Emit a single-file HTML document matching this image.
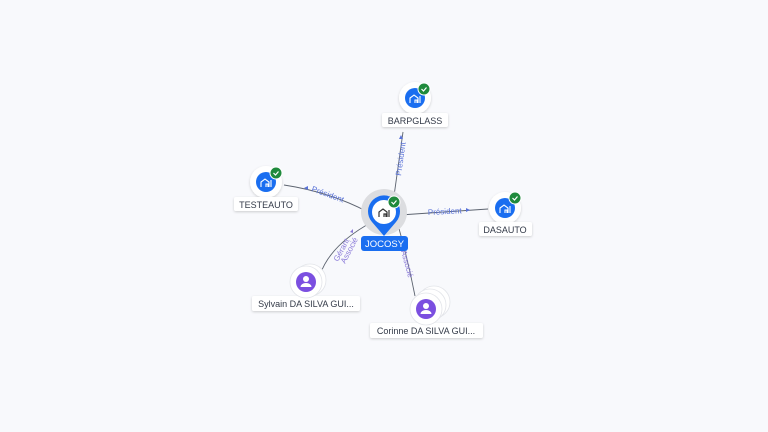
<!DOCTYPE html>
<html><head><meta charset="utf-8"><style>
html,body{margin:0;padding:0;background:#f8f9fc;width:768px;height:432px;overflow:hidden}
svg{display:block}
text{font-family:"Liberation Sans",sans-serif}
</style></head><body>
<svg width="768" height="432" viewBox="0 0 768 432">
<defs>
<filter id="sh" x="-50%" y="-50%" width="200%" height="200%"><feDropShadow dx="0" dy="1" stdDeviation="1.2" flood-color="#000" flood-opacity="0.18"/></filter>
</defs>
<rect width="768" height="432" fill="#f8f9fc"/>
<g stroke="#5d6470" stroke-width="0.9" fill="none">
<path d="M394 196 L403 132"/>
<path d="M284 185 Q330 192 368 212"/>
<path d="M400 215 L488 209"/>
<path d="M372 222 Q330 245 320 275"/>
<path d="M398 225 Q408 260 415 296"/>
</g>
<g font-size="8" fill="#5a73d8">
<text transform="translate(401,176) rotate(-82)">Président</text>
<text transform="translate(311,191) rotate(20)">Président</text>
<text x="428" y="215" transform="rotate(-3 428 215)">Président</text>
<text transform="translate(338,262) rotate(-62)" fill="#8a7ad8">Gérant</text>
<text transform="translate(345,264) rotate(-62)" fill="#8a7ad8">Associé</text>
<text transform="translate(401,251) rotate(75)" fill="#8a7ad8">Associé</text>
</g>
<g fill="#5a73d8">
<path d="M401 135 l-2 4 h4z"/>
<path d="M304 188 l4 -2 v4z"/>
<path d="M466 208 l4 2 l-4 2z"/>
<path d="M350 232 l3 -3 v4z" fill="#8a7ad8"/>
</g>
<g filter="url(#sh)">
<circle cx="415" cy="98" r="16" fill="#fff"/>
<circle cx="266" cy="182" r="16" fill="#fff"/>
<circle cx="505" cy="208" r="16" fill="#fff"/>
</g>
<g fill="#1a6ef0">
<circle cx="415" cy="98" r="10"/>
<circle cx="266" cy="182" r="10"/>
<circle cx="505" cy="208" r="10"/>
</g>
<g stroke="#fff" stroke-width="1.1" fill="none">
<path d="M410 103v-5l4-3 4 3v5M415 103v-3h2v3M420 96v7"/>
<path d="M261 187v-5l4-3 4 3v5M266 187v-3h2v3M271 180v7"/>
<path d="M500 213v-5l4-3 4 3v5M505 213v-3h2v3M510 206v7"/>
</g>
<g>
<circle cx="424" cy="89" r="6" fill="#1f8a3c" stroke="#fff" stroke-width="1"/>
<circle cx="276" cy="173" r="6" fill="#1f8a3c" stroke="#fff" stroke-width="1"/>
<circle cx="515" cy="198" r="6" fill="#1f8a3c" stroke="#fff" stroke-width="1"/>
</g>
<g stroke="#fff" stroke-width="1.2" fill="none">
<path d="M421.5 89l2 2 3-3.5"/><path d="M273.5 173l2 2 3-3.5"/><path d="M512.5 198l2 2 3-3.5"/>
</g>
<g filter="url(#sh)" fill="#fff">
<rect x="382" y="113" width="66" height="14" rx="2"/>
<rect x="234" y="197" width="64" height="14" rx="2"/>
<rect x="479" y="222" width="53" height="14" rx="2"/>
<rect x="252" y="296" width="108" height="15" rx="2"/>
<rect x="370" y="323" width="113" height="15" rx="2"/>
</g>
<g font-size="9" fill="#333a48" text-anchor="middle">
<text x="415" y="124">BARPGLASS</text>
<text x="266" y="208">TESTEAUTO</text>
<text x="505" y="233">DASAUTO</text>
<text x="306" y="307">Sylvain DA SILVA GUI...</text>
<text x="426" y="334">Corinne DA SILVA GUI...</text>
</g>
<circle cx="384" cy="212" r="23" fill="#dcdde0"/>
<path d="M384 236 L372 222 A16 16 0 1 1 396 222 Z" fill="#1a6ef0"/>
<circle cx="384" cy="212" r="12" fill="#fff"/>
<path d="M379 217v-5l4-3 4 3v5M384 217v-3h2v3M389 210v7" stroke="#333" stroke-width="1.2" fill="none"/>
<circle cx="394" cy="202" r="6" fill="#1f8a3c" stroke="#fff" stroke-width="1"/>
<path d="M391.5 202l2 2 3-3.5" stroke="#fff" stroke-width="1.2" fill="none"/>
<rect x="361" y="236" width="47" height="15" rx="3" fill="#1a6ef0"/>
<text x="384.5" y="247" font-size="9.5" fill="#fff" text-anchor="middle">JOCOSY</text>
<g fill="#fff" stroke="#e2e4e9" stroke-width="0.8">
<circle cx="310" cy="280" r="16"/>
<circle cx="306" cy="282" r="16"/>
<circle cx="434" cy="302" r="16"/>
<circle cx="430" cy="305" r="16"/>
<circle cx="426" cy="309" r="16"/>
</g>
<circle cx="306" cy="282" r="10" fill="#7b4fe0"/>
<circle cx="426" cy="309" r="10" fill="#7b4fe0"/>
<g fill="#fff">
<circle cx="306" cy="279" r="3"/><path d="M300.5 287a5.5 4 0 0 1 11 0z"/>
<circle cx="426" cy="306" r="3"/><path d="M420.5 314a5.5 4 0 0 1 11 0z"/>
</g>
</svg>
</body></html>
